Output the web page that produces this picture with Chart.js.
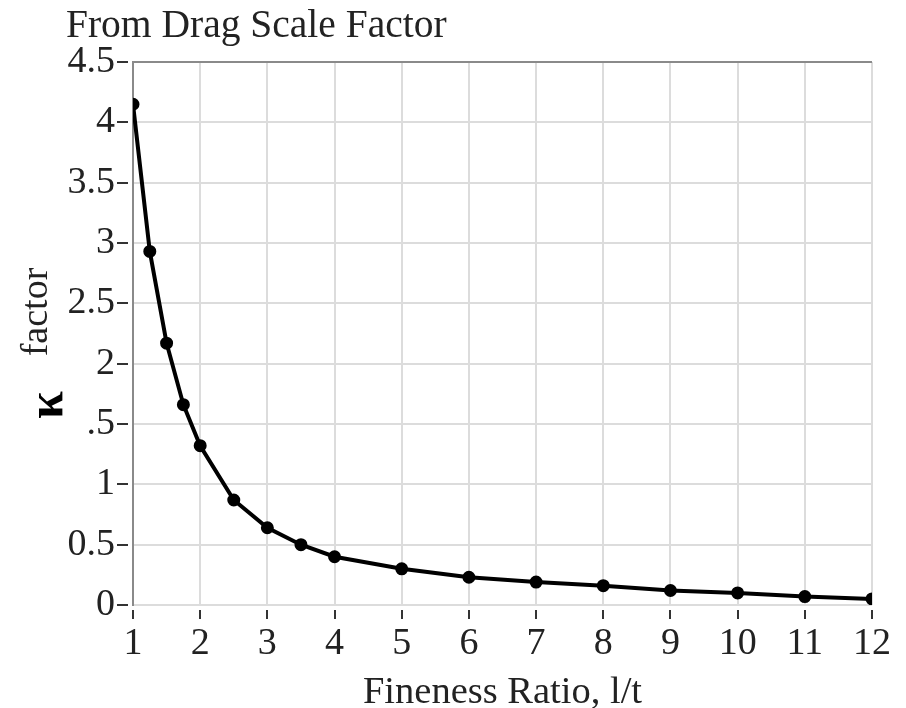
<!DOCTYPE html>
<html>
<head>
<meta charset="utf-8">
<script src="https://cdn.jsdelivr.net/npm/chart.js@4/dist/chart.umd.min.js"></script>
<style>
  html, body { margin: 0; padding: 0; background: #fff; }
  #wrap { width: 906px; height: 708px; }
</style>
</head>
<body>
<div id="wrap"><canvas id="c" width="906" height="708"></canvas></div>
<script>
// ---- data ----
const fineness = [1, 1.25, 1.5, 1.75, 2, 2.5, 3, 3.5, 4, 5, 6, 7, 8, 9, 10, 11, 12];
const kappa    = [4.15, 2.93, 2.17, 1.66, 1.32, 0.87, 0.64, 0.50, 0.40, 0.30, 0.23, 0.19, 0.16, 0.12, 0.10, 0.07, 0.05];
const yTickLabels = ['0', '0.5', '1', '.5', '2', '2.5', '3', '3.5', '4', '4.5'];
const xTickLabels = ['1','2','3','4','5','6','7','8','9','10','11','12'];
const chartTitle = 'From Drag Scale Factor';
const xTitle = 'Fineness Ratio, l/t';
const yTitleWord = 'factor';
const yTitleSymbol = 'κ';

const FONT = '"Liberation Serif", "Times New Roman", serif';
const TEXT = '#222';

const yTitlePlugin = {
  id: 'yTitle',
  afterDraw(chart) {
    const a = chart.chartArea;
    const ctx = chart.ctx;
    ctx.save();
    ctx.fillStyle = TEXT;
    ctx.textAlign = 'center';
    ctx.textBaseline = 'alphabetic';
    ctx.save();
    ctx.translate(a.left - 86, a.top + 250);
    ctx.rotate(-Math.PI / 2);
    ctx.font = '38px ' + FONT;
    ctx.fillText(yTitleWord, 0, 0);
    ctx.restore();
    ctx.save();
    ctx.translate(a.left - 71, a.top + 343);
    ctx.rotate(-Math.PI / 2);
    ctx.fillStyle = '#000';
    ctx.font = 'bold 50px ' + FONT;
    ctx.fillText(yTitleSymbol, 0, 0);
    ctx.restore();
    ctx.restore();
  }
};

new Chart(document.getElementById('c'), {
  type: 'line',
  data: {
    datasets: [{
      data: fineness.map((x, i) => ({ x: x, y: kappa[i] })),
      borderColor: '#000',
      backgroundColor: '#000',
      borderWidth: 4,
      pointRadius: 4.5,
      pointHoverRadius: 4.5,
      pointBackgroundColor: '#000',
      pointBorderColor: '#000',
      tension: 0,
      fill: false
    }]
  },
  options: {
    responsive: false,
    animation: false,
    devicePixelRatio: 1,
    layout: { padding: { left: 66, right: 34, top: 0, bottom: 0 } },
    plugins: {
      legend: { display: false },
      tooltip: { enabled: false },
      title: {
        display: true,
        text: chartTitle,
        align: 'start',
        color: TEXT,
        font: { family: FONT, size: 39.5, weight: 'normal', lineHeight: 1.2 },
        padding: { top: 3, bottom: 11.6 }
      }
    },
    scales: {
      x: {
        type: 'linear',
        min: 1,
        max: 12,
        afterFit(s) { s.height = 103; },
        ticks: {
          stepSize: 1,
          padding: 2,
          color: TEXT,
          maxRotation: 0,
          font: { family: FONT, size: 38, lineHeight: 1.2 },
          callback: (v) => xTickLabels[Math.round(v) - 1]
        },
        grid: {
          color: (c) => (c.tick && c.tick.value === 1) ? 'rgba(0,0,0,0)' : '#dcdcdc',
          lineWidth: 2,
          drawTicks: true,
          tickLength: 14,
          tickColor: '#333',
          tickWidth: 2,
          tickBorderDash: [0, 5, 9, 100]
        },
        border: { display: false },
        title: {
          display: true,
          text: xTitle,
          color: TEXT,
          font: { family: FONT, size: 38.5, lineHeight: 0.9 },
          padding: { top: 0, bottom: -2 }
        }
      },
      y: {
        type: 'linear',
        min: 0,
        max: 4.5,
        afterFit(s) { s.width = 67; },
        ticks: {
          stepSize: 0.5,
          padding: 2,
          color: TEXT,
          font: { family: FONT, size: 38, lineHeight: 1.2 },
          callback: (v) => yTickLabels[Math.round(v * 2)]
        },
        grid: {
          color: (c) => (c.tick && c.tick.value === 4.5) ? '#8a8a8a' : '#dcdcdc',
          lineWidth: 2,
          drawTicks: true,
          tickLength: 16,
          tickColor: '#333',
          tickWidth: 2,
          tickBorderDash: [11, 100]
        },
        border: { display: true, color: '#8a8a8a', width: 2 }
      }
    }
  },
  plugins: [yTitlePlugin]
});
</script>
</body>
</html>
